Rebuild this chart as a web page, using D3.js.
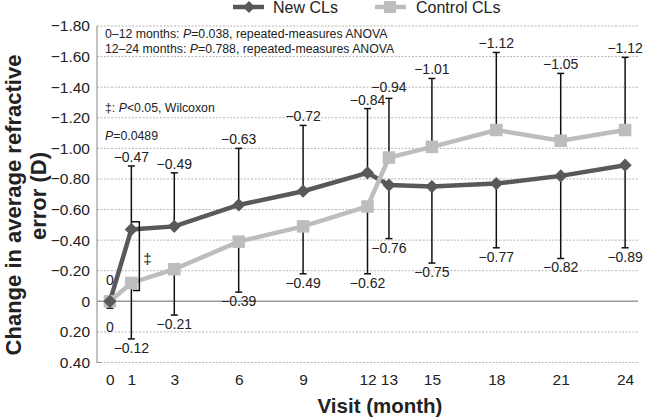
<!DOCTYPE html>
<html>
<head>
<meta charset="utf-8">
<script src="https://cdn.jsdelivr.net/npm/d3@7"></script>
<style>
  html, body { margin: 0; padding: 0; background: #fff; }
  svg { display: block; font-family: "Liberation Sans", Arial, sans-serif; }
</style>
</head>
<body>
<svg id="chart" width="645" height="418"></svg>
<script>
// ---- data ----
const months = [0, 1, 3, 6, 9, 12, 13, 15, 18, 21, 24];
const newCL = [0, -0.47, -0.49, -0.63, -0.72, -0.84, -0.76, -0.75, -0.77, -0.82, -0.89];
const controlCL = [0, -0.12, -0.21, -0.39, -0.49, -0.62, -0.94, -1.01, -1.12, -1.05, -1.12];
// one-sided error-bar end values (D)
const newErrEnd = [0, -0.885, -0.84, -1.00, -1.15, -1.26, -0.41, -0.25, -0.35, -0.28, -0.35];
const controlErrEnd = [0.045, 0.246, 0.09, -0.06, -0.18, -0.18, -1.327, -1.457, -1.627, -1.49, -1.595];
const yTicks = [-1.8, -1.6, -1.4, -1.2, -1.0, -0.8, -0.6, -0.4, -0.2, 0, 0.2, 0.4];
const seriesNames = ["New CLs", "Control CLs"];
const annotations1 = ["0–12 months: ", "P", "=0.038, repeated-measures ANOVA"];
const annotations2 = ["12–24 months: ", "P", "=0.788, repeated-measures ANOVA"];
const annotations3 = ["‡: ", "P", "<0.05, Wilcoxon"];
const annotations4 = ["", "P", "=0.0489"];
// bracket between the two series at month 1 (values in D)
const bracketMonth = 1;
const bracketRange = [-0.52, -0.07];

const svg = d3.select("#chart");
const pLeft = 97, pRight = 638, pTop = 26, pBottom = 362.5;
const x = d3.scaleLinear().domain([-0.6, 24.6]).range([pLeft, pRight]);
const y = d3.scaleLinear().domain([-1.8, 0.4]).range([pTop, pBottom]);

const darkC = "#595959", lightC = "#bdbdbd";
const fmt = v => v === 0 ? "0" : (v < 0 ? "\u2212" + Math.abs(v).toFixed(2) : v.toFixed(2));

// gridlines
svg.append("g").selectAll("line").data(yTicks.filter(v => v !== 0)).join("line")
  .attr("x1", pLeft).attr("x2", pRight)
  .attr("y1", d => y(d)).attr("y2", d => y(d))
  .attr("stroke", "#b5b5b5").attr("stroke-width", 1).attr("stroke-dasharray", "2,1.5");
// zero line
svg.append("line").attr("x1", pLeft).attr("x2", pRight).attr("y1", y(0)).attr("y2", y(0))
  .attr("stroke", "#999").attr("stroke-width", 1.5);
// left axis line with short foot
svg.append("path").attr("d", `M${pLeft},${y(-1.8)}V${y(0.4)}H${pLeft + 5}`)
  .attr("fill", "none").attr("stroke", "#999").attr("stroke-width", 1.2);

// y axis labels
const yAxis = d3.axisLeft(y).tickValues(yTicks).tickSize(0).tickPadding(7).tickFormat(fmt);
const yg = svg.append("g").attr("transform", `translate(${pLeft},0)`).call(yAxis);
yg.select(".domain").remove();
yg.selectAll("text").attr("font-size", 15.5).attr("fill", "#222").attr("font-family", "Liberation Sans, Arial, sans-serif");

// x axis labels
const xAxis = d3.axisBottom(x).tickValues(months).tickSize(0).tickPadding(11).tickFormat(d3.format("d"));
const xg = svg.append("g").attr("transform", `translate(0,${pBottom})`).call(xAxis);
xg.select(".domain").remove();
xg.selectAll("text").attr("font-size", 15.5).attr("fill", "#222").attr("font-family", "Liberation Sans, Arial, sans-serif");

// axis titles
svg.append("text").attr("x", 380).attr("y", 413).attr("text-anchor", "middle")
  .attr("font-size", 20.5).attr("font-weight", "bold").attr("fill", "#222").text("Visit (month)");
const yt = svg.append("text").attr("transform", "translate(0,205) rotate(-90)")
  .attr("text-anchor", "middle").attr("font-size", 22).attr("font-weight", "bold").attr("fill", "#222");
yt.append("tspan").attr("x", 0).attr("y", 21).text("Change in average refractive");
yt.append("tspan").attr("x", 9).attr("y", 46).text("error (D)");

// lines
const pts = vals => months.map((m, i) => [m, vals[i]]);
const line = d3.line().x(d => x(d[0])).y(d => y(d[1]));
svg.append("path").attr("d", line(pts(newCL))).attr("fill", "none").attr("stroke", darkC).attr("stroke-width", 4.5);
svg.append("path").attr("d", line(pts(controlCL))).attr("fill", "none").attr("stroke", lightC).attr("stroke-width", 4.5);

// error bars
function errBars(vals, ends) {
  const g = svg.append("g").attr("stroke", "#111").attr("stroke-width", 1.5);
  months.forEach((m, i) => {
    if (vals[i] === ends[i]) return;
    g.append("line").attr("x1", x(m)).attr("x2", x(m)).attr("y1", y(vals[i])).attr("y2", y(ends[i]));
    g.append("line").attr("x1", x(m) - 3.5).attr("x2", x(m) + 3.5).attr("y1", y(ends[i])).attr("y2", y(ends[i]));
  });
}
errBars(newCL, newErrEnd);
errBars(controlCL, controlErrEnd);

// markers
const sq = 12.5;
svg.append("g").selectAll("rect").data(pts(controlCL)).join("rect")
  .attr("x", d => x(d[0]) - sq / 2).attr("y", d => y(d[1]) - sq / 2)
  .attr("width", sq).attr("height", sq).attr("fill", lightC);
const dm = 6.6;
svg.append("g").selectAll("path").data(pts(newCL)).join("path")
  .attr("d", d => { const cx = x(d[0]), cy = y(d[1]); return `M${cx},${cy - dm}L${cx + dm},${cy}L${cx},${cy + dm}L${cx - dm},${cy}Z`; })
  .attr("fill", darkC);

// value labels (with simple collision avoidance)
const labels = [];
function collectLabels(vals, ends) {
  months.forEach((m, i) => {
    const above = ends[i] <= vals[i] && !(vals[i] === 0 && ends[i] > 0);
    let yy;
    if (vals[i] === 0) yy = above ? y(0) - 16 : y(0) + 31;
    else yy = above ? y(ends[i]) - 4 : y(ends[i]) + 14;
    labels.push({ x: x(m), y: yy, above, text: fmt(vals[i]) });
  });
}
collectLabels(newCL, newErrEnd);
collectLabels(controlCL, controlErrEnd);
labels.sort((a, b) => a.x - b.x);
for (let i = 0; i < labels.length; i++) {
  for (let j = i + 1; j < labels.length; j++) {
    const a = labels[i], b = labels[j];
    if (Math.abs(a.x - b.x) < 36 && Math.abs(a.y - b.y) < 13 && a.above && b.above) {
      if (b.y <= a.y) b.y = a.y - 13; else a.y = b.y - 13;
    }
  }
}
svg.append("g").attr("font-size", 14).attr("fill", "#222").attr("text-anchor", "middle")
  .selectAll("text").data(labels).join("text")
  .attr("x", d => d.x).attr("y", d => d.y).text(d => d.text);

// bracket at month 1
const bx = x(bracketMonth) + 8;
svg.append("path")
  .attr("d", `M${x(bracketMonth)},${y(bracketRange[0])}H${bx}V${y(bracketRange[1])}H${x(bracketMonth) + 1.5}`)
  .attr("fill", "none").attr("stroke", "#111").attr("stroke-width", 1.5);
svg.append("text").attr("x", bx + 8).attr("y", y((bracketRange[0] + bracketRange[1]) / 2) + 8)
  .attr("font-size", 15).attr("text-anchor", "middle").attr("fill", "#222").text("‡");

// annotations
function annot(parts, yy) {
  const t = svg.append("text").attr("x", 105).attr("y", yy).attr("font-size", 12.3).attr("fill", "#222");
  t.append("tspan").text(parts[0]);
  t.append("tspan").attr("font-style", "italic").text(parts[1]);
  t.append("tspan").text(parts[2]);
}
annot(annotations1, 38);
annot(annotations2, 53);
annot(annotations3, 111.5);
annot(annotations4, 139.5);

// legend
const lg = svg.append("g");
lg.append("line").attr("x1", 233).attr("x2", 264).attr("y1", 7).attr("y2", 7).attr("stroke", darkC).attr("stroke-width", 4.5);
lg.append("path").attr("d", "M249,1L255,7L249,13L243,7Z").attr("fill", darkC);
lg.append("text").attr("x", 273).attr("y", 13).attr("font-size", 16).attr("fill", "#222").text(seriesNames[0]);
lg.append("line").attr("x1", 375).attr("x2", 406).attr("y1", 7).attr("y2", 7).attr("stroke", lightC).attr("stroke-width", 4.5);
lg.append("rect").attr("x", 384).attr("y", 1).attr("width", 12).attr("height", 12).attr("fill", lightC);
lg.append("text").attr("x", 416).attr("y", 13).attr("font-size", 16).attr("fill", "#222").text(seriesNames[1]);
</script>
</body>
</html>
